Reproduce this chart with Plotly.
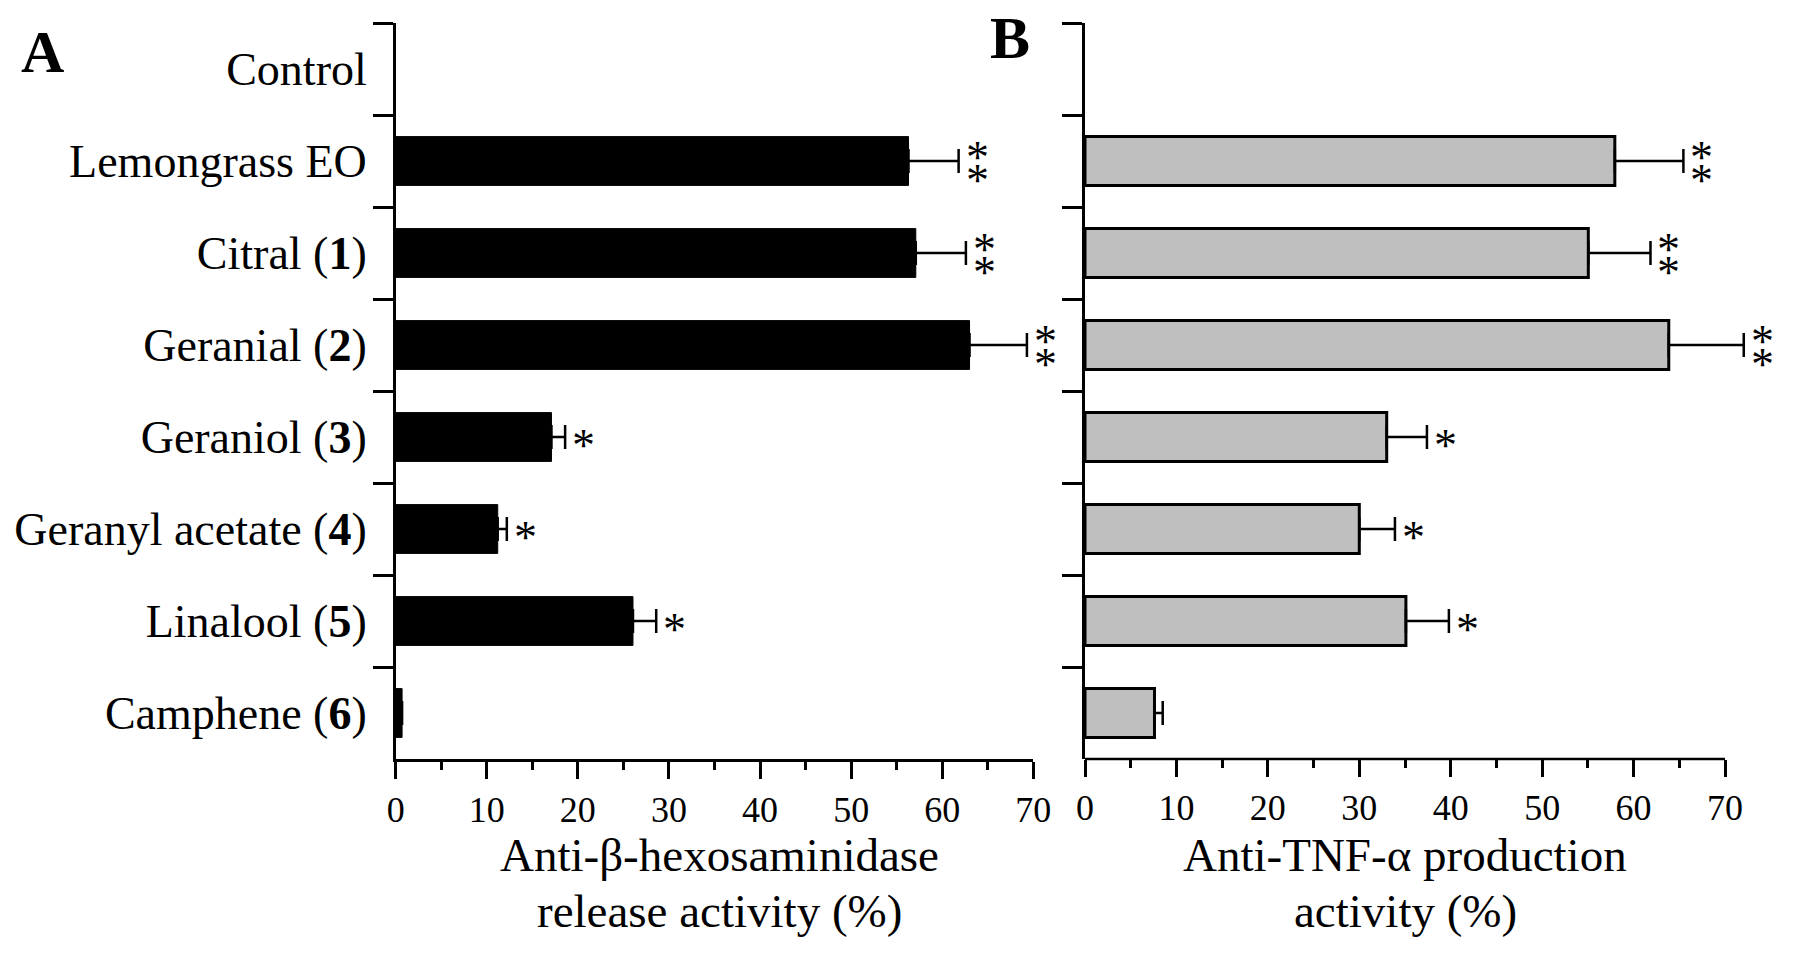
import plotly.graph_objects as go

categories = ["Control", "Lemongrass EO", "Citral (<b>1</b>)", "Geranial (<b>2</b>)",
              "Geraniol (<b>3</b>)", "Geranyl acetate (<b>4</b>)", "Linalool (<b>5</b>)",
              "Camphene (<b>6</b>)"]

hex_values = [None, 56.3, 57.1, 63.0, 17.1, 11.2, 26.05, 0.7]
hex_errors = [None, 5.5, 5.5, 6.3, 1.5, 1.0, 2.55, None]
hex_sig = ["", "**", "**", "**", "*", "*", "*", ""]

tnf_values = [None, 57.95, 55.05, 63.85, 33.0, 30.0, 35.1, 7.6]
tnf_errors = [None, 7.5, 6.8, 8.2, 4.4, 3.9, 4.7, 0.9]
tnf_sig = ["", "**", "**", "**", "*", "*", "*", ""]

x_ticks = [0, 10, 20, 30, 40, 50, 60, 70]
x_minor_ticks = [5, 15, 25, 35, 45, 55, 65]
x_max = 70

title_a = ["Anti-β-hexosaminidase", "release activity (%)"]
title_b = ["Anti-TNF-α production", "activity (%)"]

OFF = 8  # page body margin
W, H = 1795 - OFF, 964 - OFF
FONT = "Liberation Serif, Times New Roman, serif"


def px_x(tx):
    return (tx - OFF) / W


def px_y(ty):
    return 1 - (ty - OFF) / H


fig = go.Figure()

fig.add_trace(go.Bar(
    y=categories, x=hex_values, orientation="h", cliponaxis=False,
    marker=dict(color="black", line=dict(color="black", width=1)),
    error_x=dict(type="data", symmetric=False, array=hex_errors,
                 arrayminus=[0] * len(hex_errors), color="black",
                 thickness=2.5, width=12),
    xaxis="x", yaxis="y", showlegend=False,
))
fig.add_trace(go.Bar(
    y=categories, x=tnf_values, orientation="h", cliponaxis=False,
    marker=dict(color="#bfbfbf", line=dict(color="black", width=3)),
    error_x=dict(type="data", symmetric=False, array=tnf_errors,
                 arrayminus=[0] * len(tnf_errors), color="black",
                 thickness=2.5, width=12),
    xaxis="x2", yaxis="y2", showlegend=False,
))

# panel B's range is extended a little so the Geranial error bar is not clipped;
# its axis line is drawn only from 0 to 70 (shape below)
b_extra = 3
px_per_unit = (1725 - 1085) / x_max
ydom = [px_y(759), px_y(23)]
xa_dom = [px_x(395.7), px_x(1033.3)]
xb_dom = [px_x(1085), px_x(1725 + b_extra * px_per_unit)]
xb_title_center = px_x((1085 + 1725) / 2)

common_x = dict(
    tickvals=x_ticks, ticks="outside", ticklen=17, tickwidth=2.5,
    tickcolor="black", linecolor="black", linewidth=2.5,
    showgrid=False, zeroline=False, ticklabelstandoff=0,
    tickfont=dict(family=FONT, size=36, color="black"),
    minor=dict(tickvals=x_minor_ticks, ticks="outside", ticklen=8,
               tickwidth=2.5, tickcolor="black", showgrid=False),
    fixedrange=True,
)
common_y = dict(
    type="category", categoryorder="array", categoryarray=categories,
    autorange="reversed", ticks="outside", ticklen=20, tickwidth=2.5,
    tickcolor="black", tickson="boundaries", showline=True, linecolor="black",
    linewidth=2.5, showgrid=False, zeroline=False, domain=ydom,
    tickfont=dict(family=FONT, size=46, color="black"), ticklabelstandoff=17,
    fixedrange=True,
)

fig.update_layout(
    width=W, height=H,
    margin=dict(l=0, r=0, t=0, b=0, autoexpand=False),
    paper_bgcolor="white", plot_bgcolor="white",
    bargap=0.47,
    xaxis=dict(common_x, range=[0, x_max], showline=True, domain=xa_dom, anchor="y"),
    xaxis2=dict(common_x, range=[0, x_max + b_extra], showline=False, domain=xb_dom,
                anchor="y2"),
    yaxis=dict(common_y, anchor="x"),
    yaxis2=dict(common_y, anchor="x2", showticklabels=False),
    font=dict(family=FONT, color="black"),
    shapes=[dict(type="line", xref="x2", yref="y2 domain", x0=0, x1=x_max, y0=0, y1=0,
                 line=dict(color="black", width=2.5), layer="above")],
)

annotations = []


def add_sig(values, errors, sigs, xref, yref):
    for cat, v, e, s in zip(categories, values, errors, sigs):
        if not s or v is None:
            continue
        tail = v + (e or 0)
        shifts = [0] if len(s) == 1 else [12, -11]
        for ys in shifts:
            annotations.append(dict(
                x=v, y=cat, xref=xref, yref=yref, text="*",
                showarrow=True, axref=xref, ax=tail, ayref="pixel", ay=0,
                arrowcolor="rgba(0,0,0,0)", arrowwidth=0.1, arrowhead=0,
                xanchor="left", yanchor="middle", xshift=5, yshift=ys - 8,
                font=dict(family=FONT, size=46, color="black"),
            ))


add_sig(hex_values, hex_errors, hex_sig, "x", "y")
add_sig(tnf_values, tnf_errors, tnf_sig, "x2", "y2")

for lines, xc in ((title_a, (xa_dom[0] + xa_dom[1]) / 2 + 0.003), (title_b, xb_title_center)):
    for line, ty in zip(lines, (855, 911)):
        annotations.append(dict(
            x=xc, y=px_y(ty), xref="paper", yref="paper",
            text=line, showarrow=False, xanchor="center", yanchor="middle",
            font=dict(family=FONT, size=47, color="black"),
        ))

annotations.append(dict(x=px_x(42), y=px_y(52), xref="paper", yref="paper", text="<b>A</b>",
                        showarrow=False, xanchor="center", yanchor="middle",
                        font=dict(family=FONT, size=60, color="black")))
annotations.append(dict(x=px_x(1010), y=px_y(38), xref="paper", yref="paper", text="<b>B</b>",
                        showarrow=False, xanchor="center", yanchor="middle",
                        font=dict(family=FONT, size=60, color="black")))

fig.update_layout(annotations=annotations)

fig.write_html("out.html")
